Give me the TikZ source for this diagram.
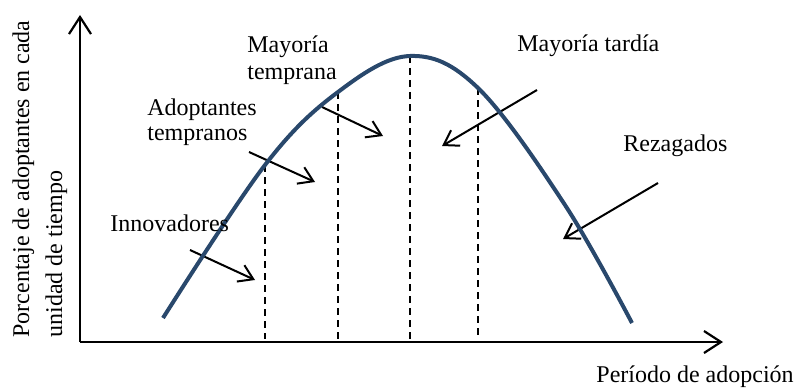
\documentclass[tikz,border=0pt]{standalone}
\usepackage{fontspec}
\setmainfont{Liberation Serif}
\usetikzlibrary{arrows.meta}

\begin{document}
\begin{tikzpicture}[x=0.5pt,y=-0.5pt,
    axis/.style={line width=1.1pt,-{Straight Barb[length=8.5pt,width=11pt,line width=1.1pt]}},
    curva/.style={line width=2pt,color=curvecol},
    pointer/.style={line width=1pt,-{Straight Barb[length=7pt,width=9pt,line width=1pt]}},
    corte/.style={line width=0.9pt,dash pattern=on 3.5pt off 2.5pt},
    etiqueta/.style={inner sep=0pt,anchor=base west,align=left,font=\fontsize{12}{13}\selectfont}]
    \definecolor{curvecol}{RGB}{41,72,108}
    \useasboundingbox (0,0) rectangle (796,390);
    % ejes
    \coordinate (O) at (80,342);
    \coordinate (ytop) at (80,15);
    \coordinate (xend) at (723,342);
    \draw[axis] (O) -- (ytop);
    \draw[axis] (O) -- (xend);
    % curva de adopcion
    \coordinate (c0) at (163,318);
    \coordinate (c1) at (265,165);
    \coordinate (c2) at (338,92);
    \coordinate (c3) at (410,56);
    \coordinate (c4) at (478,88);
    \coordinate (c5) at (565,205);
    \coordinate (c6) at (632,323);
    \coordinate (b1) at (265,339);
    \coordinate (b2) at (338,339);
    \coordinate (b3) at (410,339);
    \coordinate (b4) at (478,339);
    \draw[corte] (c1) -- (b1);
    \draw[corte] (c2) -- (b2);
    \draw[corte] (c3) -- (b3);
    \draw[corte] (c4) -- (b4);
    % flechas
    \coordinate (p1a) at (190,250); \coordinate (p1b) at (255,280);
    \coordinate (p2a) at (249,152); \coordinate (p2b) at (315,182);
    \coordinate (p3a) at (322,107); \coordinate (p3b) at (383,136);
    \coordinate (p4a) at (537,90);  \coordinate (p4b) at (442,146);
    \coordinate (p5a) at (658,183); \coordinate (p5b) at (563,239);
    \draw[pointer] (p1a) -- (p1b);
    \draw[pointer] (p2a) -- (p2b);
    \draw[pointer] (p3a) -- (p3b);
    \draw[pointer] (p4a) -- (p4b);
    \draw[pointer] (p5a) -- (p5b);
    \draw[curva] plot[smooth, tension=0.6] coordinates {(c0) (c1) (c2) (c3) (c4) (c5) (c6)};
    % textos
    \node[etiqueta] (innov) at (110,231) {Innovadores};
    \node[etiqueta,font=\fontsize{12}{12.5}\selectfont] (adopt) at (147,140) {Adoptantes\\tempranos};
    \node[etiqueta,font=\fontsize{12}{13.5}\selectfont] (mayt) at (247,80) {Mayoría\\temprana};
    \node[etiqueta] (mayd) at (517,52) {Mayoría tardía};
    \node[etiqueta] (rezag) at (623,151) {Rezagados};
    \node[etiqueta] (periodo) at (596,382) {Período de adopción};
    \node[etiqueta,rotate=90,font=\fontsize{12}{16.5}\selectfont] (ylab) at (62,338) {Porcentaje de adoptantes en cada\\unidad de tiempo};
\end{tikzpicture}
\end{document}
